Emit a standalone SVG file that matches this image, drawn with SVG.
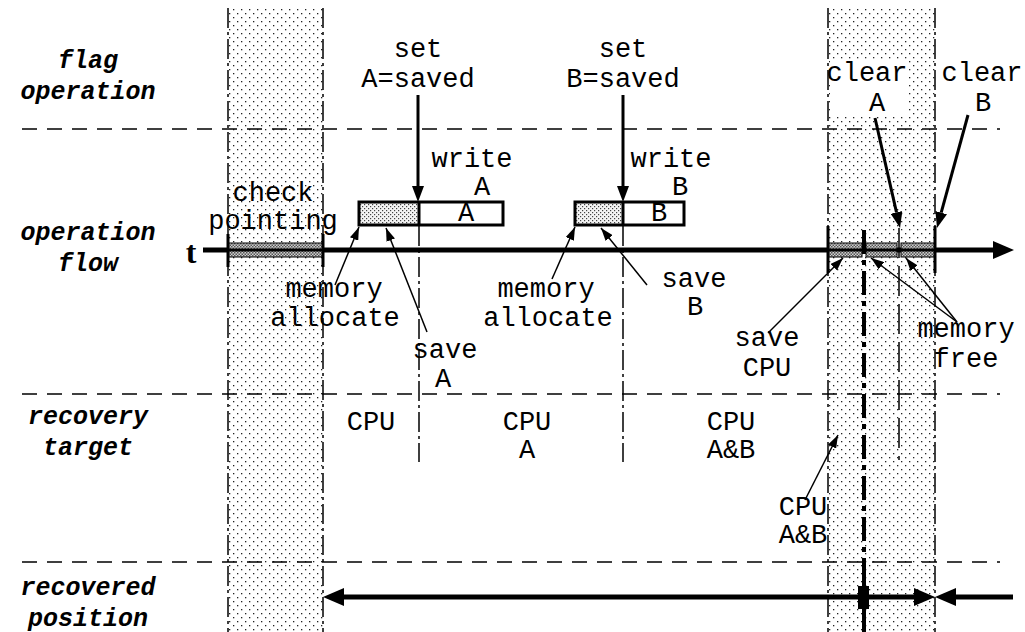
<svg xmlns="http://www.w3.org/2000/svg" width="1025" height="632" viewBox="0 0 1025 632">
<defs>
<pattern id="dots" width="8" height="8" patternUnits="userSpaceOnUse">
<rect width="8" height="8" fill="#fff"/>
<rect x="1" y="1" width="1.3" height="1.3" fill="#222"/>
<rect x="5" y="5" width="1.3" height="1.3" fill="#222"/>
</pattern>
<pattern id="stip" width="4" height="4" patternUnits="userSpaceOnUse">
<rect width="4" height="4" fill="#f4f4f4"/>
<rect x="0" y="0" width="1.2" height="1.2" fill="#444"/>
<rect x="2" y="2" width="1.2" height="1.2" fill="#444"/>
</pattern>
<pattern id="hatch" width="3" height="3" patternUnits="userSpaceOnUse">
<rect width="3" height="3" fill="#d0d0d0"/>
<rect x="0" y="0" width="1.5" height="1.5" fill="#555"/>
<rect x="1.5" y="1.5" width="1.5" height="1.5" fill="#555"/>
</pattern>
<marker id="ah" viewBox="0 0 13 9" refX="13" refY="4.5" markerWidth="13" markerHeight="9" markerUnits="userSpaceOnUse" orient="auto">
<path d="M0,0 L13,4.5 L0,9 z" fill="#000"/>
</marker>
<marker id="ahT" viewBox="0 0 16 12" refX="0" refY="6" markerWidth="16" markerHeight="12" markerUnits="userSpaceOnUse" orient="auto">
<path d="M0,0 L16,6 L0,12 z" fill="#000"/>
</marker>
<marker id="ahB" viewBox="0 0 21 18" refX="0" refY="9" markerWidth="21" markerHeight="18" markerUnits="userSpaceOnUse" orient="auto-start-reverse">
<path d="M0,0 L21,9 L0,18 z" fill="#000"/>
</marker>
</defs>
<style>
.mono{font-family:"Liberation Mono","Courier New",monospace;font-size:27px;fill:#000;text-anchor:middle}
.lab{font-family:"Liberation Mono","Courier New",monospace;font-size:25px;font-weight:bold;font-style:italic;fill:#000;text-anchor:middle}
.hd{stroke:#000;stroke-width:1.5;stroke-dasharray:15 10;fill:none}
.dd{stroke:#000;stroke-width:1.5;stroke-dasharray:20 4 3 4;fill:none}
.thin{stroke:#000;stroke-width:1.5;fill:none;marker-end:url(#ah)}
.thick{stroke:#000;stroke-width:3;fill:none;marker-end:url(#ahT)}
.tick{stroke:#000;stroke-width:3}
.bar{fill:url(#hatch);stroke:#000;stroke-width:1}
</style>
<rect width="1025" height="632" fill="#fff"/>

<g id="band-checkpoint">
<rect x="228" y="8" width="95" height="624" fill="url(#dots)"/>
<line class="dd" x1="228" y1="8" x2="228" y2="632"/>
<line class="dd" x1="323" y1="8" x2="323" y2="632"/>
</g>
<g id="band-clear">
<rect x="828" y="8" width="107" height="624" fill="url(#dots)"/>
<rect x="830" y="60" width="77" height="57" fill="#fff"/>
<line class="dd" x1="828" y1="8" x2="828" y2="632"/>
<line class="dd" x1="935" y1="8" x2="935" y2="632"/>
</g>

<g id="lanes">
<line class="hd" x1="22" y1="129" x2="1000" y2="129"/>
<line class="hd" x1="22" y1="394" x2="1000" y2="394"/>
<line class="hd" x1="22" y1="562" x2="1000" y2="562"/>
</g>

<g id="lane-labels">
<text class="lab" x="88" y="68">flag</text>
<text class="lab" x="88" y="99">operation</text>
<text class="lab" x="88" y="240">operation</text>
<text class="lab" x="88" y="271">flow</text>
<text class="lab" x="88" y="424">recovery</text>
<text class="lab" x="88" y="455">target</text>
<text class="lab" x="88" y="595">recovered</text>
<text class="lab" x="88" y="626">position</text>
</g>

<g id="timeline">
<text x="191" y="263" font-family="Liberation Serif,serif" font-size="32" font-weight="bold" text-anchor="middle">t</text>
<line x1="203" y1="250" x2="993" y2="250" stroke="#000" stroke-width="5" marker-end="url(#ahB)"/>
</g>

<g id="checkpoint">
<rect class="bar" x="228" y="243" width="95" height="14"/>
<line x1="228" y1="250" x2="323" y2="250" stroke="#000" stroke-width="3"/>
<line class="tick" x1="228" y1="234" x2="228" y2="267"/>
<line class="tick" x1="323" y1="234" x2="323" y2="267"/>
<text class="mono" x="273" y="201">check</text>
<text class="mono" x="273" y="229">pointing</text>
</g>

<g id="box-A">
<rect x="359" y="202" width="60" height="23" fill="url(#stip)"/>
<rect x="419" y="202" width="84" height="23" fill="#fff"/>
<rect x="359" y="202" width="144" height="23" fill="none" stroke="#000" stroke-width="3"/>
<line x1="419" y1="202" x2="419" y2="225" stroke="#000" stroke-width="3"/>
<text class="mono" x="466" y="221">A</text>
<line class="dd" x1="419" y1="226" x2="419" y2="462"/>
</g>
<g id="box-B">
<rect x="575" y="202" width="48" height="23" fill="url(#stip)"/>
<rect x="623" y="202" width="61" height="23" fill="#fff"/>
<rect x="575" y="202" width="109" height="23" fill="none" stroke="#000" stroke-width="3"/>
<line x1="623" y1="202" x2="623" y2="225" stroke="#000" stroke-width="3"/>
<text class="mono" x="659" y="221">B</text>
<line class="dd" x1="623" y1="226" x2="623" y2="462"/>
</g>

<g id="clear-region">
<rect class="bar" x="828" y="243" width="34" height="14"/>
<rect class="bar" x="866" y="243" width="31" height="14"/>
<rect class="bar" x="901" y="243" width="34" height="14"/>
<line x1="828" y1="250" x2="935" y2="250" stroke="#000" stroke-width="3"/>
<line class="tick" x1="828" y1="226" x2="828" y2="273"/>
<line class="tick" x1="935" y1="226" x2="935" y2="273"/>
<line x1="864" y1="230" x2="864" y2="562" stroke="#000" stroke-width="4" stroke-dasharray="24 6 5 6"/>
<line x1="864" y1="562" x2="864" y2="632" stroke="#000" stroke-width="4"/>
<rect x="858" y="586" width="11" height="23" fill="#000"/>
<line x1="899" y1="228" x2="899" y2="460" stroke="#000" stroke-width="1.5" stroke-dasharray="30 8"/>
</g>

<g id="texts">
<text class="mono" x="418" y="57">set</text>
<text class="mono" x="418" y="87">A=saved</text>
<text class="mono" x="472" y="167">write</text>
<text class="mono" x="482" y="195">A</text>
<text class="mono" x="623" y="57">set</text>
<text class="mono" x="623" y="87">B=saved</text>
<text class="mono" x="671" y="167">write</text>
<text class="mono" x="680" y="195">B</text>
<text class="mono" x="867" y="81">clear</text>
<text class="mono" x="877" y="111">A</text>
<text class="mono" x="982" y="81">clear</text>
<text class="mono" x="983" y="111">B</text>
<text class="mono" x="334" y="297">memory</text>
<text class="mono" x="335" y="326">allocate</text>
<text class="mono" x="445" y="358">save</text>
<text class="mono" x="443" y="387">A</text>
<text class="mono" x="546" y="297">memory</text>
<text class="mono" x="548" y="326">allocate</text>
<text class="mono" x="694" y="287">save</text>
<text class="mono" x="695" y="315">B</text>
<text class="mono" x="767" y="346">save</text>
<text class="mono" x="767" y="376">CPU</text>
<text class="mono" x="966" y="337">memory</text>
<text class="mono" x="966" y="367">free</text>
<text class="mono" x="371" y="430">CPU</text>
<text class="mono" x="527" y="430">CPU</text>
<text class="mono" x="527" y="458">A</text>
<text class="mono" x="731" y="430">CPU</text>
<text class="mono" x="731" y="458">A&amp;B</text>
<text class="mono" x="803" y="515">CPU</text>
<text class="mono" x="803" y="543">A&amp;B</text>
</g>

<g id="connectors">
<line class="thick" x1="418" y1="95" x2="418" y2="186"/>
<line class="thick" x1="623" y1="95" x2="623" y2="186"/>
<line class="thick" x1="875" y1="118" x2="896.5" y2="212.4"/>
<line class="thick" x1="968" y1="115" x2="941.2" y2="212.6"/>
<line class="thin" x1="335" y1="285" x2="359" y2="227"/>
<line class="thin" x1="427" y1="332" x2="386" y2="228"/>
<line class="thin" x1="552" y1="279" x2="575" y2="227"/>
<line class="thin" x1="647" y1="285" x2="601" y2="228"/>
<line class="thin" x1="768" y1="333" x2="843" y2="258"/>
<line class="thin" x1="957" y1="322" x2="871" y2="258"/>
<line class="thin" x1="957" y1="322" x2="906" y2="258"/>
<line class="thin" x1="805" y1="500" x2="838" y2="435"/>
<line x1="344" y1="597" x2="914" y2="597" stroke="#000" stroke-width="5" marker-start="url(#ahB)" marker-end="url(#ahB)"/>
<line x1="1013" y1="597" x2="956" y2="597" stroke="#000" stroke-width="5" marker-end="url(#ahB)"/>
</g>
</svg>
